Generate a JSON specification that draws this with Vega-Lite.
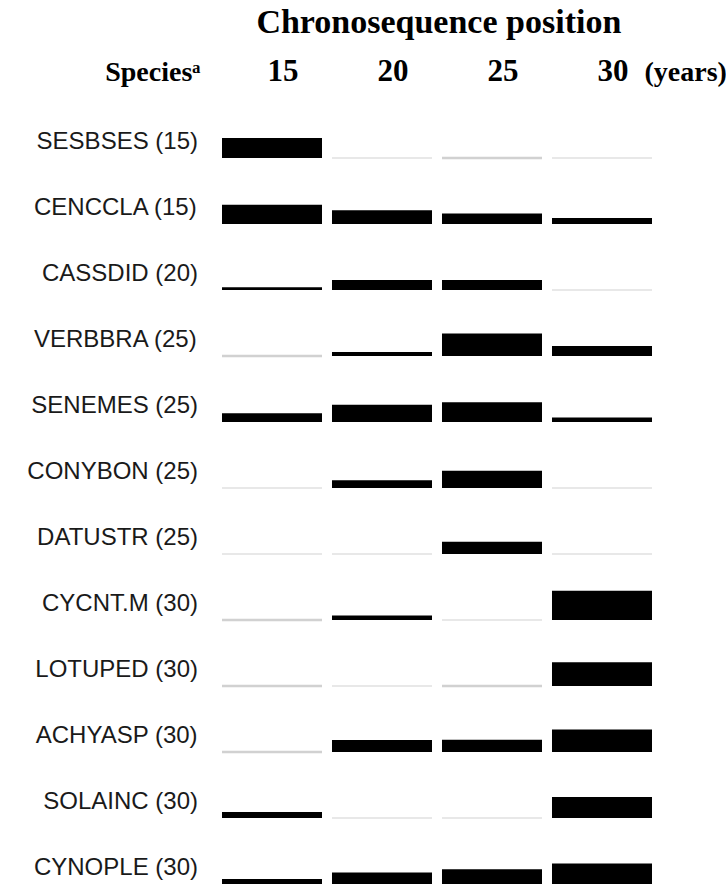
{
  "$schema": "https://vega.github.io/schema/vega-lite/v6.json",
  "background": "white",
  "padding": {"left": 27, "top": 6, "right": 0, "bottom": 0},
  "bounds": "flush",
  "title": {
    "text": "Chronosequence position",
    "font": "Liberation Serif",
    "fontSize": 34,
    "fontWeight": "bold",
    "color": "black",
    "anchor": "middle",
    "dx": 62,
    "offset": 15
  },
  "data": {
    "values": [
      {"species": "SESBSES (15)", "year": "15", "presence": "present", "value": 22},
      {"species": "SESBSES (15)", "year": "20", "presence": "absent", "value": 0},
      {"species": "SESBSES (15)", "year": "25", "presence": "trace", "value": 0},
      {"species": "SESBSES (15)", "year": "30", "presence": "absent", "value": 0},
      {"species": "CENCCLA (15)", "year": "15", "presence": "present", "value": 21},
      {"species": "CENCCLA (15)", "year": "20", "presence": "present", "value": 15},
      {"species": "CENCCLA (15)", "year": "25", "presence": "present", "value": 11.5},
      {"species": "CENCCLA (15)", "year": "30", "presence": "present", "value": 6.5},
      {"species": "CASSDID (20)", "year": "15", "presence": "present", "value": 3},
      {"species": "CASSDID (20)", "year": "20", "presence": "present", "value": 11},
      {"species": "CASSDID (20)", "year": "25", "presence": "present", "value": 11},
      {"species": "CASSDID (20)", "year": "30", "presence": "absent", "value": 0},
      {"species": "VERBBRA (25)", "year": "15", "presence": "trace", "value": 0},
      {"species": "VERBBRA (25)", "year": "20", "presence": "present", "value": 4.5},
      {"species": "VERBBRA (25)", "year": "25", "presence": "present", "value": 24.5},
      {"species": "VERBBRA (25)", "year": "30", "presence": "present", "value": 11},
      {"species": "SENEMES (25)", "year": "15", "presence": "present", "value": 9.5},
      {"species": "SENEMES (25)", "year": "20", "presence": "present", "value": 19},
      {"species": "SENEMES (25)", "year": "25", "presence": "present", "value": 21.5},
      {"species": "SENEMES (25)", "year": "30", "presence": "present", "value": 5},
      {"species": "CONYBON (25)", "year": "15", "presence": "absent", "value": 0},
      {"species": "CONYBON (25)", "year": "20", "presence": "present", "value": 8.5},
      {"species": "CONYBON (25)", "year": "25", "presence": "present", "value": 19},
      {"species": "CONYBON (25)", "year": "30", "presence": "absent", "value": 0},
      {"species": "DATUSTR (25)", "year": "15", "presence": "absent", "value": 0},
      {"species": "DATUSTR (25)", "year": "20", "presence": "absent", "value": 0},
      {"species": "DATUSTR (25)", "year": "25", "presence": "present", "value": 13.5},
      {"species": "DATUSTR (25)", "year": "30", "presence": "absent", "value": 0},
      {"species": "CYCNT.M (30)", "year": "15", "presence": "trace", "value": 0},
      {"species": "CYCNT.M (30)", "year": "20", "presence": "present", "value": 5},
      {"species": "CYCNT.M (30)", "year": "25", "presence": "absent", "value": 0},
      {"species": "CYCNT.M (30)", "year": "30", "presence": "present", "value": 32},
      {"species": "LOTUPED (30)", "year": "15", "presence": "trace", "value": 0},
      {"species": "LOTUPED (30)", "year": "20", "presence": "absent", "value": 0},
      {"species": "LOTUPED (30)", "year": "25", "presence": "trace", "value": 0},
      {"species": "LOTUPED (30)", "year": "30", "presence": "present", "value": 26},
      {"species": "ACHYASP (30)", "year": "15", "presence": "trace", "value": 0},
      {"species": "ACHYASP (30)", "year": "20", "presence": "present", "value": 13},
      {"species": "ACHYASP (30)", "year": "25", "presence": "present", "value": 13.5},
      {"species": "ACHYASP (30)", "year": "30", "presence": "present", "value": 24.5},
      {"species": "SOLAINC (30)", "year": "15", "presence": "present", "value": 6.5},
      {"species": "SOLAINC (30)", "year": "20", "presence": "absent", "value": 0},
      {"species": "SOLAINC (30)", "year": "25", "presence": "absent", "value": 0},
      {"species": "SOLAINC (30)", "year": "30", "presence": "present", "value": 23},
      {"species": "CYNOPLE (30)", "year": "15", "presence": "present", "value": 5.5},
      {"species": "CYNOPLE (30)", "year": "20", "presence": "present", "value": 12.5},
      {"species": "CYNOPLE (30)", "year": "25", "presence": "present", "value": 16},
      {"species": "CYNOPLE (30)", "year": "30", "presence": "present", "value": 22.5}
    ]
  },
  "facet": {
    "row": {
      "field": "species",
      "type": "nominal",
      "sort": ["SESBSES (15)", "CENCCLA (15)", "CASSDID (20)", "VERBBRA (25)", "SENEMES (25)", "CONYBON (25)", "DATUSTR (25)", "CYCNT.M (30)", "LOTUPED (30)", "ACHYASP (30)", "SOLAINC (30)", "CYNOPLE (30)"],
      "header": {
        "title": null,
        "labelAngle": 0,
        "labelOrient": "left",
        "labelAlign": "left",
        "labelBaseline": "middle",
        "labelFont": "Liberation Sans",
        "labelFontSize": 24,
        "labelColor": "#1a1a1a",
        "labelPadding": 24
      }
    }
  },
  "spacing": 34,
  "spec": {
    "width": 430,
    "height": 32,
    "resolve": {"axis": {"x": "independent"}},
    "layer": [
      {
        "transform": [{"filter": "datum.presence === 'absent'"}],
        "mark": {"type": "tick", "color": "#d4d4d4", "thickness": 1.5, "size": 100},
        "encoding": {
          "x": {
            "field": "year",
            "type": "ordinal",
            "scale": {"domain": ["15", "20", "25", "30"], "paddingInner": 0.0909, "paddingOuter": 0},
            "axis": {
              "orient": "top",
              "domain": false,
              "ticks": false,
              "labelFont": "Liberation Serif",
              "labelFontWeight": "bold",
              "labelFontSize": 31,
              "labelColor": "black",
              "labelAngle": 0,
              "labelBaseline": "alphabetic",
              "labelPadding": 46,
              "labelOffset": 11,
              "title": "(years)",
              "titleFont": "Liberation Serif",
              "titleFontWeight": "bold",
              "titleFontSize": 28,
              "titleColor": "black",
              "titleAlign": "left",
              "titleBaseline": "alphabetic",
              "titleAngle": 0,
              "titleX": 422,
              "titleY": -46
            }
          },
          "y": {"datum": 0, "type": "quantitative", "scale": {"domain": [0, 32]}, "axis": null}
        }
      },
      {
        "transform": [{"filter": "datum.presence === 'trace'"}],
        "mark": {"type": "tick", "color": "#bdbdbd", "thickness": 2.5, "size": 100},
        "encoding": {
          "x": {"field": "year", "type": "ordinal", "axis": null},
          "y": {"datum": 0, "type": "quantitative", "axis": null}
        }
      },
      {
        "transform": [{"filter": "datum.presence === 'present'"}],
        "mark": {"type": "bar", "color": "black"},
        "encoding": {
          "x": {
            "field": "year",
            "type": "ordinal",
            "axis": {
              "orient": "top",
              "domain": false,
              "ticks": false,
              "labels": false,
              "title": "Speciesᵃ",
              "titleFont": "Liberation Serif",
              "titleFontWeight": "bold",
              "titleFontSize": 28,
              "titleColor": "black",
              "titleAlign": "right",
              "titleBaseline": "alphabetic",
              "titleAngle": 0,
              "titleX": -22,
              "titleY": -46
            }
          },
          "y": {"field": "value", "type": "quantitative", "axis": null}
        }
      }
    ]
  },
  "config": {"view": {"stroke": null}}
}
